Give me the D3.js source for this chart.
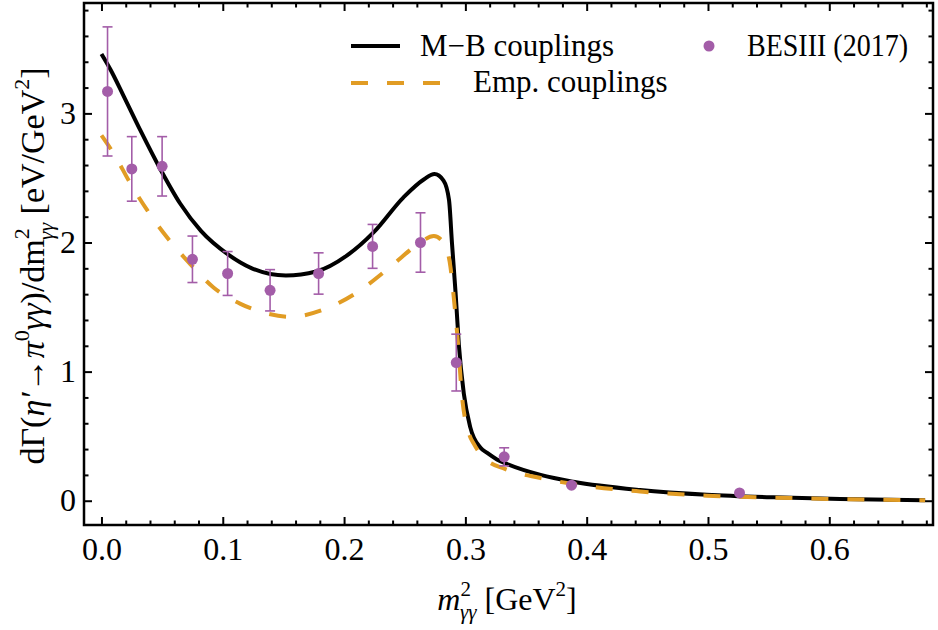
<!DOCTYPE html>
<html>
<head>
<meta charset="utf-8">
<script src="https://cdn.jsdelivr.net/npm/d3@7"></script>
<style>
  body { margin: 0; background: #fff; }
  text { font-family: "Liberation Serif", "DejaVu Serif", serif; fill: #000; }
</style>
</head>
<body>
<div id="chart"></div>
<script>
// M-B couplings curve
var mbX = [0.0, 0.0074, 0.018, 0.032, 0.049, 0.065, 0.082, 0.104, 0.124, 0.152, 0.177, 0.2025, 0.2245, 0.249, 0.266, 0.2745, 0.282, 0.2865, 0.289, 0.292, 0.2946, 0.2987, 0.304, 0.3125, 0.318, 0.326, 0.3345, 0.362, 0.389, 0.444, 0.499, 0.554, 0.609, 0.679];
var mbY = [3.46, 3.34, 3.14, 2.87, 2.56, 2.30, 2.09, 1.91, 1.80, 1.744, 1.775, 1.90, 2.08, 2.35, 2.49, 2.53, 2.48, 2.33, 1.99, 1.60, 1.21, 0.83, 0.57, 0.41, 0.37, 0.32, 0.284, 0.20, 0.147, 0.083, 0.046, 0.026, 0.013, 0.003];

// Emp. couplings curve
var empX = [0.0, 0.010, 0.024, 0.0377, 0.054, 0.073, 0.0926, 0.1146, 0.1366, 0.156, 0.183, 0.211, 0.238, 0.260, 0.274, 0.282, 0.2877, 0.291, 0.294, 0.297, 0.303, 0.307, 0.315, 0.333, 0.362, 0.389, 0.444, 0.499, 0.554, 0.609, 0.679];
var empY = [2.83, 2.69, 2.455, 2.25, 2.04, 1.835, 1.65, 1.525, 1.45, 1.424, 1.48, 1.615, 1.81, 1.98, 2.05, 2.00, 1.81, 1.52, 1.21, 0.83, 0.52, 0.44, 0.336, 0.245, 0.176, 0.129, 0.072, 0.039, 0.024, 0.012, 0.003];

// BESIII (2017) points
var besX = [0.005, 0.025, 0.05, 0.075, 0.104, 0.139, 0.179, 0.2235, 0.263, 0.2925, 0.332, 0.3875, 0.526];
var besY = [3.17, 2.57, 2.59, 1.87, 1.76, 1.63, 1.76, 1.97, 2.00, 1.07, 0.34, 0.12, 0.06];
var besErr = [0.5, 0.25, 0.23, 0.18, 0.17, 0.16, 0.16, 0.17, 0.23, 0.22, 0.07, 0.0, 0.0];

var xTicks = [0.0, 0.1, 0.2, 0.3, 0.4, 0.5, 0.6];
var yTicks = [0, 1, 2, 3];

var W = 938, H = 630;
var pLeft = 84, pRight = 933, pTop = 3, pBottom = 525;
var fs = 32;

var x = d3.scaleLinear().domain([-0.0144, 0.6855]).range([pLeft, pRight]);
var y = d3.scaleLinear().domain([-0.188, 3.855]).range([pBottom, pTop]);

var svg = d3.select('#chart').append('svg')
    .attr('width', W).attr('height', H);

var purple = '#a35da8', orange = '#e19c24';

// minor ticks
var xMinor = d3.range(0, 0.69, 0.02).filter(function (v) { return Math.abs(v * 10 - Math.round(v * 10)) > 1e-6; });
var yMinor = d3.range(0, 3.85, 0.2).filter(function (v) { return Math.abs(v - Math.round(v)) > 1e-6; });

function noDomain(g) { g.select('.domain').remove(); }

// bottom axis
svg.append('g').attr('transform', 'translate(0,' + pBottom + ')')
    .call(d3.axisBottom(x).tickValues(xTicks).tickSize(-8).tickPadding(12).tickFormat(d3.format('.1f')))
    .call(noDomain)
    .call(function (g) { g.selectAll('text').attr('font-size', fs).attr('font-family', 'Liberation Serif'); });
svg.append('g').attr('transform', 'translate(0,' + pBottom + ')')
    .call(d3.axisBottom(x).tickValues(xMinor).tickSize(-4.5).tickFormat(''))
    .call(noDomain);
// top
svg.append('g').attr('transform', 'translate(0,' + pTop + ')')
    .call(d3.axisTop(x).tickValues(xTicks).tickSize(-8).tickFormat(''))
    .call(noDomain);
svg.append('g').attr('transform', 'translate(0,' + pTop + ')')
    .call(d3.axisTop(x).tickValues(xMinor).tickSize(-4.5).tickFormat(''))
    .call(noDomain);
// left
svg.append('g').attr('transform', 'translate(' + pLeft + ',0)')
    .call(d3.axisLeft(y).tickValues(yTicks).tickSize(-8).tickPadding(8).tickFormat(d3.format('d')))
    .call(noDomain)
    .call(function (g) { g.selectAll('text').attr('font-size', fs).attr('font-family', 'Liberation Serif'); });
svg.append('g').attr('transform', 'translate(' + pLeft + ',0)')
    .call(d3.axisLeft(y).tickValues(yMinor).tickSize(-4.5).tickFormat(''))
    .call(noDomain);
// right
svg.append('g').attr('transform', 'translate(' + pRight + ',0)')
    .call(d3.axisRight(y).tickValues(yTicks).tickSize(-8).tickFormat(''))
    .call(noDomain);
svg.append('g').attr('transform', 'translate(' + pRight + ',0)')
    .call(d3.axisRight(y).tickValues(yMinor).tickSize(-4.5).tickFormat(''))
    .call(noDomain);

svg.selectAll('.tick line').attr('stroke', '#000').attr('stroke-width', 2);

// frame
svg.append('rect')
    .attr('x', pLeft).attr('y', pTop)
    .attr('width', pRight - pLeft).attr('height', pBottom - pTop)
    .attr('fill', 'none').attr('stroke', '#000').attr('stroke-width', 2.5);

var line = d3.line()
    .x(function (d) { return x(d[0]); })
    .y(function (d) { return y(d[1]); })
    .curve(d3.curveMonotoneX);

var mbData = mbX.map(function (v, i) { return [v, mbY[i]]; });
var empData = empX.map(function (v, i) { return [v, empY[i]]; });

svg.append('path').datum(mbData)
    .attr('d', line).attr('fill', 'none')
    .attr('stroke', '#000').attr('stroke-width', 4);

svg.append('path').datum(empData)
    .attr('d', line).attr('fill', 'none')
    .attr('stroke', orange).attr('stroke-width', 4)
    .attr('stroke-dasharray', '17,19');

// error bars + points
var pts = besX.map(function (v, i) { return { x: v, y: besY[i], e: besErr[i] }; });
var eb = svg.append('g').selectAll('g').data(pts).enter().append('g');
eb.filter(function (d) { return d.e > 0; }).each(function (d) {
    var g = d3.select(this);
    var cx = x(d.x), y1 = y(d.y + d.e), y2 = y(d.y - d.e);
    g.append('line').attr('x1', cx).attr('x2', cx).attr('y1', y1).attr('y2', y2)
        .attr('stroke', purple).attr('stroke-width', 1.6);
    g.append('line').attr('x1', cx - 5).attr('x2', cx + 5).attr('y1', y1).attr('y2', y1)
        .attr('stroke', purple).attr('stroke-width', 1.6);
    g.append('line').attr('x1', cx - 5).attr('x2', cx + 5).attr('y1', y2).attr('y2', y2)
        .attr('stroke', purple).attr('stroke-width', 1.6);
});
eb.append('circle')
    .attr('cx', function (d) { return x(d.x); })
    .attr('cy', function (d) { return y(d.y); })
    .attr('r', 5.5).attr('fill', purple);

// legend
var leg = svg.append('g');
leg.append('line').attr('x1', 351).attr('x2', 400).attr('y1', 46).attr('y2', 46)
    .attr('stroke', '#000').attr('stroke-width', 4);
leg.append('text').attr('x', 420).attr('y', 56).attr('font-size', 31).text('M\u2212B couplings');
leg.append('line').attr('x1', 351).attr('x2', 441).attr('y1', 83).attr('y2', 83)
    .attr('stroke', orange).attr('stroke-width', 4).attr('stroke-dasharray', '17,19');
leg.append('text').attr('x', 473).attr('y', 92).attr('font-size', 31).text('Emp. couplings');
leg.append('circle').attr('cx', 709).attr('cy', 46).attr('r', 5.5).attr('fill', purple);
leg.append('text').attr('x', 747).attr('y', 56).attr('font-size', 31)
    .attr('textLength', 161).attr('lengthAdjust', 'spacingAndGlyphs').text('BESIII (2017)');

// x label
var xl = svg.append('text').attr('x', 507).attr('y', 610).attr('text-anchor', 'middle').attr('font-size', fs);
xl.append('tspan').attr('font-style', 'italic').text('m');
xl.append('tspan').attr('font-size', 21).attr('dy', -14).text('2');
xl.append('tspan').attr('font-size', 21).attr('font-style', 'italic').attr('dx', -11).attr('dy', 23).text('\u03b3\u03b3');
xl.append('tspan').attr('dy', -9).text(' [GeV');
xl.append('tspan').attr('font-size', 21).attr('dy', -14).text('2');
xl.append('tspan').attr('dy', 14).text(']');

// y label
var yl = svg.append('text')
    .attr('transform', 'translate(44,266) rotate(-90)')
    .attr('text-anchor', 'middle').attr('font-size', 34);
yl.append('tspan').text('d\u0393(');
yl.append('tspan').attr('font-style', 'italic').text('\u03b7\u2032');
yl.append('tspan').text('\u2192');
yl.append('tspan').attr('font-style', 'italic').text('\u03c0');
yl.append('tspan').attr('font-size', 22).attr('dy', -15).text('0');
yl.append('tspan').attr('font-style', 'italic').attr('dy', 15).text('\u03b3\u03b3');
yl.append('tspan').text(')/dm');
yl.append('tspan').attr('font-size', 22).attr('dy', -15).text('2');
yl.append('tspan').attr('font-size', 22).attr('font-style', 'italic').attr('dx', -12).attr('dy', 24).text('\u03b3\u03b3');
yl.append('tspan').attr('dy', -9).text(' [eV/GeV');
yl.append('tspan').attr('font-size', 22).attr('dy', -15).text('2');
yl.append('tspan').attr('dy', 15).text(']');
</script>
</body>
</html>
